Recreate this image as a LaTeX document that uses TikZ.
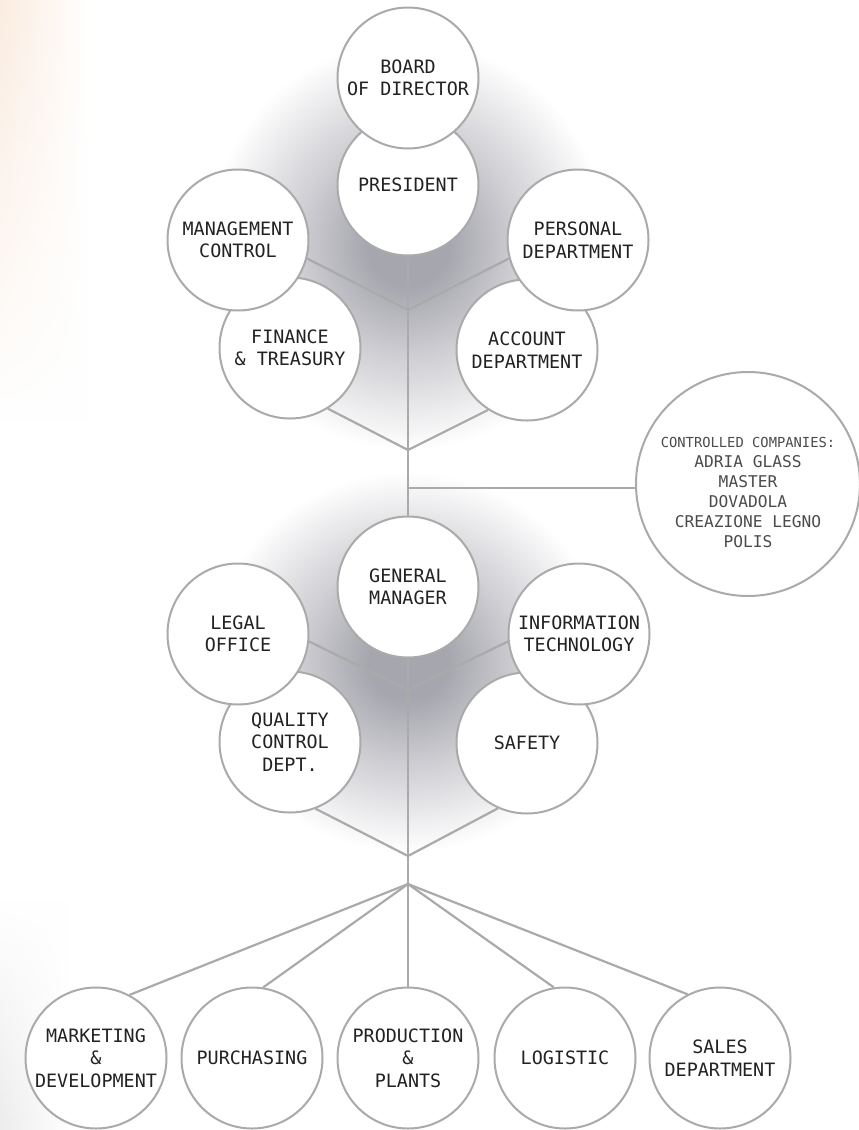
\documentclass[tikz,border=0pt]{standalone}
\usepackage{fontspec}
\usetikzlibrary{fadings}
\newfontfamily\monof{DejaVu Sans Mono}
\definecolor{linegray}{RGB}{170,170,170}
\definecolor{textc}{RGB}{34,34,34}
\definecolor{ctrlc}{RGB}{75,75,75}
\definecolor{shdA}{RGB}{166,166,174}
\definecolor{shdB}{RGB}{208,208,213}
\definecolor{peach}{RGB}{251,236,224}
\definecolor{paleg}{RGB}{236,236,236}
\pgfdeclareradialshading{glow}{\pgfpoint{0bp}{0bp}}{color(0bp)=(shdA); color(5bp)=(shdA); color(14bp)=(shdB); color(25bp)=(white); color(50bp)=(white)}
\pgfdeclarelayer{bglayer}
\pgfdeclarelayer{linelayer}
\pgfsetlayers{bglayer,linelayer,main}
\begin{document}
\begin{tikzpicture}[x=1pt,y=-1pt,
  unit/.style={circle, draw=linegray, line width=2pt, fill=white, minimum size=141pt, inner sep=0pt, align=center, text=textc, font=\monof\fontsize{18.4}{22.5}\selectfont},
  bigunit/.style={unit, minimum size=224pt},
  ctrltext/.style={align=center, text=ctrlc, inner sep=0pt, font=\monof\fontsize{16.2}{20}\selectfont},
  link/.style={draw=linegray, line width=2.2pt}]
\useasboundingbox (0,0) rectangle (859,1130);
% nodes
\node[unit] (pres) at (408,185) {PRESIDENT};
\node[unit] (board) at (408,78) {BOARD\\OF DIRECTOR};
\node[unit] (fin) at (290,348) {FINANCE\\\& TREASURY};
\node[unit] (mgmt) at (238,240) {MANAGEMENT\\CONTROL};
\node[unit] (acc) at (527,350) {ACCOUNT\\DEPARTMENT};
\node[unit] (pers) at (578,240) {PERSONAL\\DEPARTMENT};
\node[bigunit] (ctrl) at (748,484) {};
\node[ctrltext] (ctrltxt) at (748,492) {{\fontsize{13.8}{20}\selectfont CONTROLLED COMPANIES:}\\ADRIA GLASS\\MASTER\\DOVADOLA\\CREAZIONE LEGNO\\POLIS};
\node[unit] (gm) at (408,587) {GENERAL\\MANAGER};
\node[unit] (qual) at (290,742) {QUALITY\\CONTROL\\DEPT.};
\node[unit] (legal) at (238,634) {LEGAL\\OFFICE};
\node[unit] (safety) at (527,743) {SAFETY};
\node[unit] (it) at (579,634) {INFORMATION\\TECHNOLOGY};
\node[unit] (mkt) at (96,1058) {MARKETING\\\&\\DEVELOPMENT};
\node[unit] (purch) at (252,1058) {PURCHASING};
\node[unit] (prod) at (408,1058) {PRODUCTION\\\&\\PLANTS};
\node[unit] (logi) at (565,1058) {LOGISTIC};
\node[unit] (sales) at (720,1058) {SALES\\DEPARTMENT};
% background
\begin{pgfonlayer}{bglayer}
\fill[white] (0,0) rectangle (859,1130);
\shade[left color=peach, right color=white, path fading=south] (0,0) rectangle (90,420);
\shade[left color=paleg, right color=white, path fading=north] (0,900) rectangle (70,1130);
\shade[shading=glow] (408,245) ellipse (200 and 205);
\shade[shading=glow] (408,662) ellipse (200 and 190);
\end{pgfonlayer}
% connectors
\begin{pgfonlayer}{linelayer}
\coordinate (j1) at (408,310);
\coordinate (j2) at (408,450);
\coordinate (jc) at (408,488);
\coordinate (j3) at (408,690);
\coordinate (j4) at (408,856);
\coordinate (j5) at (408,884);
\draw[link] (pres.south) -- (gm.north);
\draw[link] (gm.south) -- (prod.north);
\draw[link] (mgmt.-15) -- (j1) -- (pers.195);
\draw[link] (fin.-58) -- (j2) -- (acc.-123);
\draw[link] (jc) -- (ctrl.west |- jc);
\draw[link] (legal.-6) -- (j3) -- (it.186);
\draw[link] (qual.-69) -- (j4) -- (safety.-114);
\draw[link] (j5) -- (mkt.62);
\draw[link] (j5) -- (purch.81);
\draw[link] (j5) -- (logi.99);
\draw[link] (j5) -- (sales.117);
\end{pgfonlayer}
\end{tikzpicture}
\end{document}
